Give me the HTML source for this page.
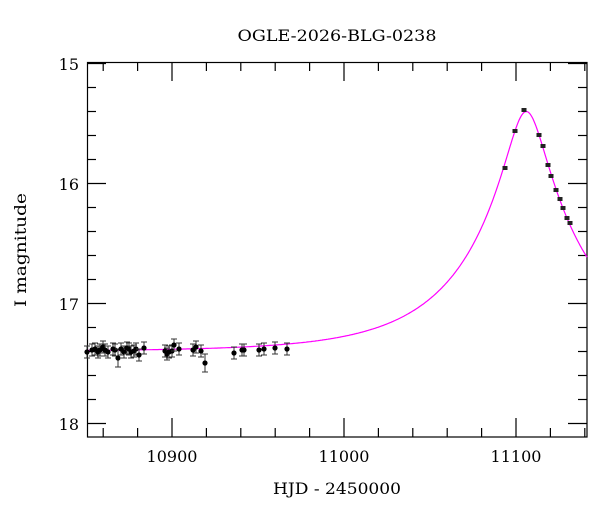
<!DOCTYPE html><html><head><style>body{margin:0;background:#fff}svg text{font-family:"DejaVu Serif","Liberation Serif",serif;fill:#000;font-weight:500}</style></head><body>
<svg id="s" width="600" height="512" xmlns="http://www.w3.org/2000/svg">
<text x="337" y="41" font-size="16" text-anchor="middle" textLength="199" lengthAdjust="spacingAndGlyphs">OGLE-2026-BLG-0238</text>
<text x="337" y="494" font-size="16" text-anchor="middle" textLength="128" lengthAdjust="spacingAndGlyphs">HJD - 2450000</text>
<text transform="translate(26,250) rotate(-90)" font-size="16" text-anchor="middle" textLength="114" lengthAdjust="spacingAndGlyphs">I magnitude</text>
<g font-size="16" text-anchor="end"><text x="79" y="70">15</text><text x="79" y="190">16</text><text x="79" y="310">17</text><text x="79" y="430">18</text></g>
<g font-size="16" text-anchor="middle"><text x="172" y="462">10900</text><text x="344" y="462">11000</text><text x="516" y="462">11100</text></g>
<g id="ax" stroke="#000" stroke-width="1.2" fill="none"><rect x="87.5" y="62.5" width="499.5" height="374.5"/></g>
<path id="m" fill="none" stroke="#ff00ff" stroke-width="1.2"/>
<g id="pts"></g>
</svg>
<script>
var ns="http://www.w3.org/2000/svg",s=document.getElementById('s'),ax=document.getElementById('ax');
function L(x1,y1,x2,y2,g,c){var l=document.createElementNS(ns,'line');l.setAttribute('x1',x1);l.setAttribute('y1',y1);l.setAttribute('x2',x2);l.setAttribute('y2',y2);if(c)l.setAttribute('stroke',c);(g||ax).appendChild(l);}
function X(t){return 172+(t-10900)*1.72}function Y(m){return 63.5+(m-15)*120}
for(var m=15;m<=18.01;m+=0.2){var y=Y(m),maj=Math.abs(m-Math.round(m))<0.01,w=maj?19:9;L(87,y,87+w,y);L(587,y,587-w,y);}
for(var t=10860;t<=11140;t+=20){var x=X(t),maj=t%100==0,w=maj?19:9;L(x,437,x,437-w);L(x,62,x,62+w);}
var d="";for(var px=87;px<=587;px+=1){var t=10900+(px-172)/1.72,u0=0.16,tE=69,u=Math.sqrt(u0*u0+Math.pow((t-11106)/tE,2)),A=(u*u+2)/(u*Math.sqrt(u*u+4));var mg=17.40-2.5*Math.log10(A);d+=(d?"L":"M")+px+" "+Y(mg).toFixed(1);}
document.getElementById('m').setAttribute('d',d);
var P=[[87,352],[92,350],[95,349],[98,352],[100,350],[103,347],[105,350],[108,352],[113,349],[115,350],[118,358],[121,349],[124,352],[127,348],[129,349],[131,352],[134,351],[136,349],[139,355],[144,348],[165,351],[167,354],[169,352],[172,351],[174,345],[179,349],[193,350],[196,347],[201,351],[205,363],[234,353],[242,350],[244,350],[259,350],[264,349],[275,348],[287,349]];
var Q=[[505,168],[515,131],[524,110],[539,135],[543,146],[548,165],[551,176],[556,190],[560,199],[563,208],[567,218],[570,223]];
var g=document.getElementById('pts');
P.forEach(function(p,i){var e=(p[1]>355)?9:6;L(p[0],p[1]-e,p[0],p[1]+e,g,'#333');L(p[0]-3,p[1]-e,p[0]+3,p[1]-e,g,'#333');L(p[0]-3,p[1]+e,p[0]+3,p[1]+e,g,'#333');var c=document.createElementNS(ns,'circle');c.setAttribute('cx',p[0]);c.setAttribute('cy',p[1]);c.setAttribute('r',2.6);g.appendChild(c);});
Q.forEach(function(p){var c=document.createElementNS(ns,'rect');c.setAttribute('x',p[0]-2.5);c.setAttribute('y',p[1]-2);c.setAttribute('width',5);c.setAttribute('height',4);c.setAttribute('fill','#222');g.appendChild(c);});
</script>
</body></html>
